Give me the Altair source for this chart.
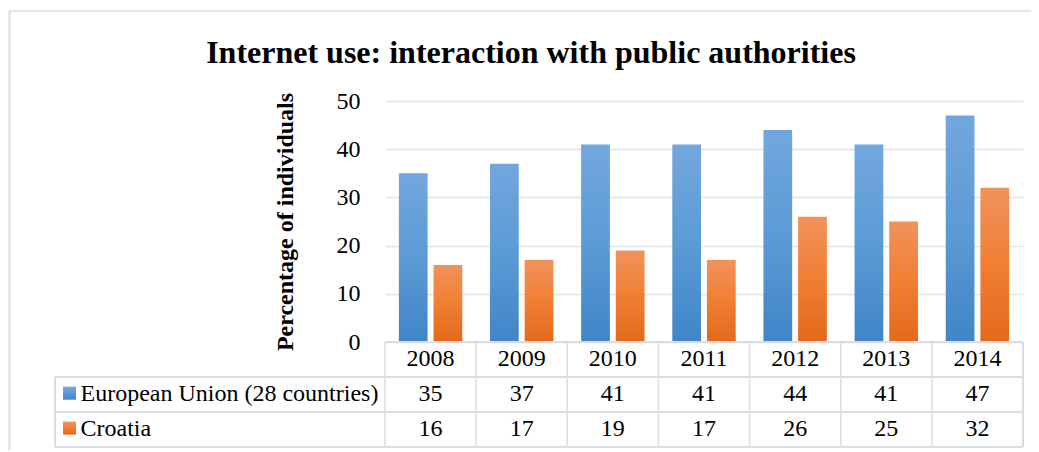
import altair as alt
import pandas as pd

# ---------------- data ----------------
years = ["2008", "2009", "2010", "2011", "2012", "2013", "2014"]
eu_values = [35, 37, 41, 41, 44, 41, 47]
hr_values = [16, 17, 19, 17, 26, 25, 32]
series_names = ["European Union (28 countries)", "Croatia"]
y_ticks = [0, 10, 20, 30, 40, 50]
title_text = "Internet use: interaction with public authorities"
y_title = "Percentage of individuals"

# ---------------- styling ----------------
FONT = "Liberation Serif"
W, H = 638, 241
GRID = "#e0e3e8"
LINE = "#d9dde3"
ROW = 34.9  # table row height in px

def grad(c0, c1, c2):
    return {"gradient": "linear", "x1": 0, "x2": 0, "y1": 0, "y2": 1,
            "stops": [{"offset": 0, "color": c0},
                      {"offset": 0.5, "color": c1},
                      {"offset": 1, "color": c2}]}

fills = [grad("#72a7dd", "#5b9bd5", "#4185c8"),
         grad("#f1925c", "#f07f33", "#e3691b")]

rows = []
for s, vals in zip(series_names, [eu_values, hr_values]):
    for y, v in zip(years, vals):
        rows.append({"year": y, "series": s, "value": v})
df = pd.DataFrame(rows)
df_years = pd.DataFrame({"year": years})
df_leg = pd.DataFrame({"series": series_names})

x_enc = alt.X("year:N", sort=years, axis=None,
              scale=alt.Scale(paddingInner=0, paddingOuter=0))
xoff = alt.XOffset("series:N", sort=series_names,
                   scale=alt.Scale(domain=series_names, paddingInner=0.171, paddingOuter=0.4))
y_enc = alt.Y("value:Q", scale=alt.Scale(domain=[0, 50], nice=False),
              axis=alt.Axis(values=y_ticks, grid=True, gridColor=GRID, gridWidth=1.5,
                            domain=False, ticks=False,
                            labelFont=FONT, labelFontSize=24, labelColor="black", labelPadding=25,
                            title=y_title, titleFont=FONT, titleFontSize=24,
                            titleFontWeight="bold", titleColor="black", titlePadding=39))

base = alt.Chart(df)
layers = []

# bars
for i, s in enumerate(series_names):
    layers.append(
        base.transform_filter(alt.datum.series == s)
        .mark_bar(fill=fills[i], stroke=None)
        .encode(x=x_enc, xOffset=xoff, y=y_enc)
    )

# ---------------- data table ----------------
hdr_base = 265
text_kw = dict(font=FONT, fontSize=24, color="black", baseline="alphabetic")

layers.append(
    alt.Chart(df_years).mark_text(align="center", **text_kw)
    .encode(x=x_enc, y=alt.value(hdr_base), text="year:N")
)
for i, s in enumerate(series_names):
    yb = hdr_base + ROW * (i + 1)
    layers.append(
        base.transform_filter(alt.datum.series == s)
        .mark_text(align="center", **text_kw)
        .encode(x=x_enc, y=alt.value(yb), text="value:Q")
    )
    leg = alt.Chart(df_leg).transform_filter(alt.datum.series == s)
    layers.append(
        leg.mark_rect(fill=fills[i])
        .encode(x=alt.value(-322), x2=alt.value(-309),
                y=alt.value(yb - 14.2), y2=alt.value(yb - 1.2))
    )
    layers.append(
        leg.mark_text(align="left", **text_kw)
        .encode(x=alt.value(-304.5), y=alt.value(yb), text="series:N")
    )

# table grid lines
line_kw = dict(color=LINE, strokeWidth=1.5)
y_row1 = H + ROW
y_row2 = H + 2 * ROW
y_bot = H + 3 * ROW
layers.append(alt.Chart(df_years).mark_rule(**line_kw)
              .encode(x=alt.value(0), x2=alt.value(W), y=alt.value(H)))
for yy in [y_row1, y_row2, y_bot]:
    layers.append(alt.Chart(df_years).mark_rule(**line_kw)
                  .encode(x=alt.value(-330), x2=alt.value(W), y=alt.value(yy)))
layers.append(alt.Chart(df_years).mark_rule(**line_kw)
              .encode(x=alt.value(-330), y=alt.value(y_row1), y2=alt.value(y_bot)))
layers.append(alt.Chart(df_years).mark_rule(**line_kw)
              .encode(x=alt.X("year:N", sort=years, axis=None, bandPosition=0,
                              scale=alt.Scale(paddingInner=0, paddingOuter=0)),
                      y=alt.value(H), y2=alt.value(y_bot)))
layers.append(alt.Chart(df_years).mark_rule(**line_kw)
              .encode(x=alt.value(W), y=alt.value(H), y2=alt.value(y_bot)))

# chart-area border (left and top edges)
border_kw = dict(color="#e2e5e9", strokeWidth=1.5)
layers.append(alt.Chart(df_years).mark_rule(**border_kw)
              .encode(x=alt.value(-375.5), y=alt.value(-90), y2=alt.value(360)))
layers.append(alt.Chart(df_years).mark_rule(**border_kw)
              .encode(x=alt.value(-375.5), x2=alt.value(W + 10), y=alt.value(-90)))

chart = alt.layer(*layers).properties(
    width=W, height=H,
    title=alt.Title(title_text, font=FONT, fontSize=32, fontWeight="bold", color="black",
                    anchor="middle", frame="group", dx=-173, offset=-85, baseline="alphabetic"),
    autosize=alt.AutoSizeParams(type="none"),
    padding={"left": 377, "top": 93, "right": 8, "bottom": 108},
).configure_view(stroke=None)

chart.save("out.html", embed_options={"renderer": "svg", "actions": False})
